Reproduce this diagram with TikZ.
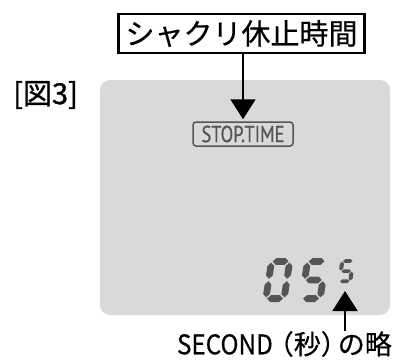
\documentclass[tikz,border=0pt]{standalone}
\usepackage{fontspec}
\usepackage{graphicx}
\usetikzlibrary{arrows.meta, positioning}
\newfontfamily\jpfont{Noto Sans CJK JP}[FakeBold=0.5]
\newfontfamily\jpheavy{Noto Sans CJK JP}[FakeBold=1.2]
\newfontfamily\lcdfont{PT Sans}[FakeBold=0.8]
\definecolor{panelgray}{RGB}{216,217,218}
\definecolor{lcdgray}{RGB}{85,85,85}
% half thickness of an LCD segment
\def\segh{3.4}
\newcommand{\lcdh}[3]{% x1, x2, y
  \fill[lcdgray] (#1,#3) -- ({#1+\segh},{#3+\segh}) -- ({#2-\segh},{#3+\segh}) -- (#2,#3)
    -- ({#2-\segh},{#3-\segh}) -- ({#1+\segh},{#3-\segh}) -- cycle;}
\newcommand{\lcdv}[3]{% x, y1, y2
  \fill[lcdgray] (#1,#2) -- ({#1+\segh},{#2+\segh}) -- ({#1+\segh},{#3-\segh}) -- (#1,#3)
    -- ({#1-\segh},{#3-\segh}) -- ({#1-\segh},{#2+\segh}) -- cycle;}
\newcommand{\lcdzero}{%
  \lcdh{4.6}{20.4}{40.6}\lcdh{4.6}{20.4}{3.4}%
  \lcdv{3.4}{23.2}{39.4}\lcdv{3.4}{4.6}{20.8}%
  \lcdv{21.6}{23.2}{39.4}\lcdv{21.6}{4.6}{20.8}}
\newcommand{\lcdfive}{%
  \lcdh{4.6}{20.4}{40.6}\lcdh{4.6}{20.4}{3.4}\lcdh{4.6}{20.4}{22}%
  \lcdv{3.4}{23.2}{39.4}\lcdv{21.6}{4.6}{20.8}}

\begin{document}
\begin{tikzpicture}[x=1pt,y=-1pt,
    titlebox/.style={draw, line width=2.5pt, inner sep=0pt, minimum width=246pt,
      minimum height=39pt, font=\jpfont\fontsize{29}{29}\selectfont},
    stopbox/.style={draw=lcdgray, text=lcdgray, line width=1.5pt, rounded corners=3pt,
      inner sep=0pt, minimum width=100pt, minimum height=24pt,
      font=\lcdfont\fontsize{23}{23}\selectfont},
    arr/.style={line width=2pt, -{Triangle[width=25pt,length=20pt]}}]
  \useasboundingbox (0,0) rectangle (393,360);
  % display panel
  \fill[panelgray, rounded corners=10pt] (100,80) rectangle (390,315);
  % labels
  \node[titlebox] (title) at (241.5,33.5) {シャクリ休止時間};
  \node[font=\jpheavy\fontsize{29}{29}\selectfont, anchor=west, inner sep=0pt] (fig) at (13,95) {[図3]};
  \node[stopbox] (stop) at (243,134) {\scalebox{0.8}[1]{STOP.TIME}};
  \draw[arr, shorten >=2pt] (title.south -| stop.north) -- (stop.north);
  % 05 s
  \begin{scope}[shift={(262,302)}, xslant=0.15, yscale=-1]
    \lcdzero
  \end{scope}
  \begin{scope}[shift={(298,302)}, xslant=0.15, yscale=-1]
    \lcdfive
  \end{scope}
  \begin{scope}[shift={(337,283)}, xslant=0.15, yscale=-1, xscale=0.6, yscale=0.54]
    \lcdfive
  \end{scope}
  \node[font=\jpfont\fontsize{27}{27}\selectfont, anchor=east, inner sep=0pt] (second) at (392,344)
    {\scalebox{0.9}[1]{SECOND}\kern-6pt（秒）\kern-10pt の略};
  \coordinate (stip) at (345,291);
  \draw[arr] (second.north -| stip) -- (stip);
\end{tikzpicture}
\end{document}
